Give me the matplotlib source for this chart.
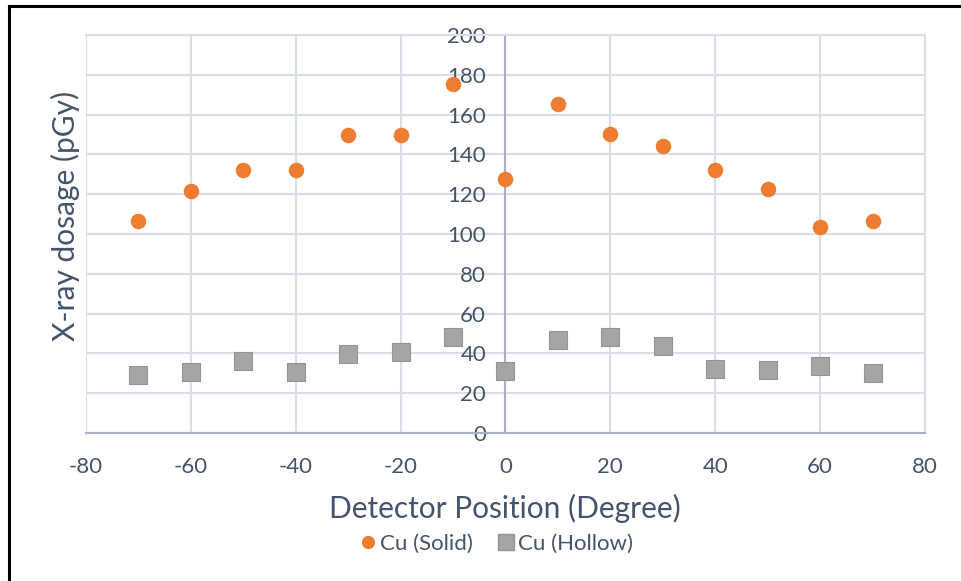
import matplotlib
matplotlib.use("Agg")
import matplotlib.pyplot as plt
from matplotlib.lines import Line2D

# Detector positions (degrees) and measured doses (pGy)
positions = [-70, -60, -50, -40, -30, -20, -10, 0, 10, 20, 30, 40, 50, 60, 70]
cu_solid = [106.5, 121.8, 132.2, 132.2, 149.7, 149.8, 175.3, 127.6, 165.3, 150.3, 144.2, 132.2, 122.6, 103.6, 106.6]
cu_hollow = [28.9, 30.7, 36.0, 30.7, 39.7, 40.6, 48.2, 31.2, 46.6, 48.1, 43.6, 32.3, 31.6, 33.7, 29.9]

x_ticks = [-80, -60, -40, -20, 0, 20, 40, 60, 80]
y_ticks = [0, 20, 40, 60, 80, 100, 120, 140, 160, 180, 200]

TEXT = "#44546a"
GRID = "#d9dee7"
AXIS = "#a7b1c3"
ORANGE = "#ed7d31"
GRAY = "#a5a5a5"

plt.rcParams["font.family"] = ["Lato", "DejaVu Sans"]

fig = plt.figure(figsize=(9.62, 5.81), dpi=100)
ax = fig.add_axes([86 / 962, 1 - 433 / 581, (925 - 86) / 962, (433 - 35) / 581])

ax.scatter(positions, cu_solid, s=125, marker="o", color=ORANGE, zorder=4,
           linewidths=0, label="Cu (Solid)")
ax.scatter(positions, cu_hollow, s=160, marker="s", color=GRAY, edgecolors="#949494",
           linewidths=0.8, zorder=4, label="Cu (Hollow)")

ax.set_xlim(-80, 80)
ax.set_ylim(0, 200)
ax.set_xticks(x_ticks)
ax.set_yticks(y_ticks)
ax.set_xticklabels([str(v) for v in x_ticks])
ax.set_yticklabels([str(v) for v in y_ticks])

ax.grid(True, color=GRID, linewidth=1.5, zorder=0)
ax.set_axisbelow(True)

ax.spines["left"].set_position(("data", 0))
ax.spines["left"].set_color(AXIS)
ax.spines["left"].set_linewidth(1.5)
ax.spines["bottom"].set_color(AXIS)
ax.spines["bottom"].set_linewidth(1.5)
for side in ("top", "right"):
    ax.spines[side].set_color(GRID)
    ax.spines[side].set_linewidth(1.5)

ax.tick_params(axis="both", length=0, labelsize=16, labelcolor=TEXT)
ax.tick_params(axis="y", pad=14)
ax.tick_params(axis="x", pad=17)
for lbl in ax.get_yticklabels():
    lbl.set_zorder(3)

fig.text(65 / 962, 1 - 216 / 581, "X-ray dosage (pGy)", rotation=90,
         ha="center", va="center", fontsize=21.5, color=TEXT)
fig.text(505 / 962, 1 - 508 / 581, "Detector Position (Degree)",
         ha="center", va="center", fontsize=21.5, color=TEXT)

handles = [
    Line2D([], [], marker="o", linestyle="none", markersize=9.5, color=ORANGE,
           markeredgewidth=0, label="Cu (Solid)"),
    Line2D([], [], marker="s", linestyle="none", markersize=11, color=GRAY,
           markeredgecolor="#949494", label="Cu (Hollow)"),
]
fig.legend(handles=handles, loc="center", bbox_to_anchor=(495 / 962, 1 - 544 / 581),
           ncol=2, frameon=False, fontsize=16, labelcolor=TEXT,
           handletextpad=0.05, columnspacing=1.0, handlelength=1.0)

# Frame lines on the left and top edges of the figure
fig.add_artist(Line2D([8.5 / 962, 8.5 / 962], [0, 1 - 6 / 581], color="black",
                      linewidth=2.2, transform=fig.transFigure))
fig.add_artist(Line2D([8.5 / 962, 1], [1 - 6 / 581, 1 - 6 / 581], color="black",
                      linewidth=2.2, transform=fig.transFigure))

fig.savefig("out.png", dpi=100, facecolor="white")
